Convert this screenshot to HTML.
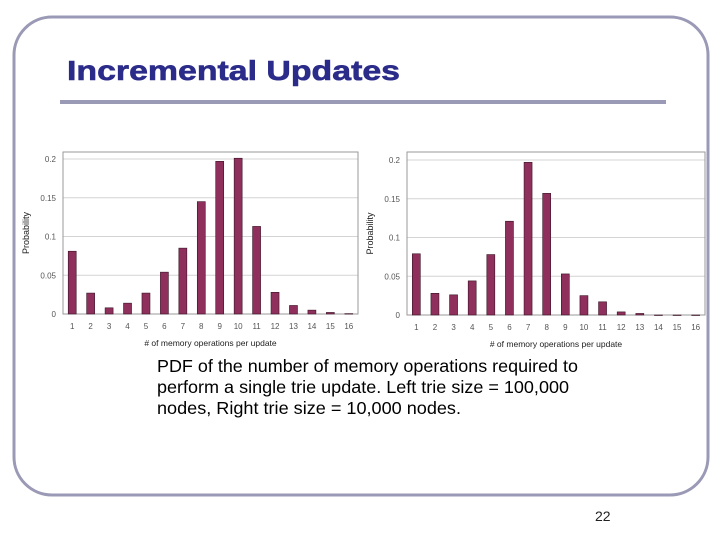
<!DOCTYPE html>
<html><head><meta charset="utf-8"><style>
body{margin:0;background:#fff;}
svg{display:block;font-family:"Liberation Sans",sans-serif;}
</style></head><body>
<svg id="s" width="720" height="540" viewBox="0 0 720 540">
<rect x="14" y="17" width="694" height="478" rx="38" fill="none" stroke="#9a9ab6" stroke-width="3"/>
<text x="67" y="80" font-size="28" font-weight="bold" fill="#2b2b8a" stroke="#2b2b8a" stroke-width="0.6" textLength="333" lengthAdjust="spacingAndGlyphs">Incremental Updates</text>
<rect x="60" y="100" width="606" height="4" fill="#9a9ab6"/>
<g font-size="17.5" fill="#000">
<text x="157" y="372" textLength="421" lengthAdjust="spacingAndGlyphs">PDF of the number of memory operations required to</text>
<text x="157" y="393" textLength="412" lengthAdjust="spacingAndGlyphs">perform a single trie update. Left trie size = 100,000</text>
<text x="157" y="414" textLength="304" lengthAdjust="spacingAndGlyphs">nodes, Right trie size = 10,000 nodes.</text>
</g>
<text x="595" y="521" font-size="14" fill="#222">22</text>
<g id="c1"></g>
<g id="c2"></g>
</svg>
<script>
const categories=[1,2,3,4,5,6,7,8,9,10,11,12,13,14,15,16];
const leftValues=[0.081,0.027,0.008,0.014,0.027,0.054,0.085,0.145,0.197,0.201,0.113,0.028,0.011,0.005,0.002,0.0005];
const rightValues=[0.079,0.028,0.026,0.044,0.078,0.121,0.197,0.157,0.053,0.025,0.017,0.004,0.002,0,0,0];
const yTicks=[0,0.05,0.1,0.15,0.2];
const yTickLabels=["0","0.05","0.1","0.15","0.2"];
const NS="http://www.w3.org/2000/svg";
function mk(t,a,p){const e=document.createElementNS(NS,t);for(const k in a)e.setAttribute(k,a[k]);p.appendChild(e);return e;}
function chart(g,vals,L,R,T,B,top02){
  const y=v=>B-(B-top02)*v/0.2;
  const step=(R-L)/categories.length;
  const x=i=>L+step*(i+0.5);
  yTicks.forEach((t,i)=>{
    const ln=mk('line',{x1:L,x2:R,y1:y(t),y2:y(t),stroke:'#d4d4d4','stroke-width':1},g);
    
    
    const tx=mk('text',{x:L-7,y:y(t)+3,'font-size':8,fill:'#555','text-anchor':'end'},g);
    tx.textContent=yTickLabels[i];
    
    
  });
  const fr=mk('rect',{x:L,y:T,width:R-L,height:B-T,fill:'none',stroke:'#999','stroke-width':1},g);
  
  
  vals.forEach((v,i)=>{
    const h=B-y(v);
    const b=mk('rect',{x:x(i)-4,y:y(v),width:8,height:Math.max(h,0.5),fill:'#8e2f5c',stroke:'#3a1426','stroke-width':0.6},g);
    
    
    const tx=mk('text',{x:x(i),y:B+15,'font-size':8,fill:'#555','text-anchor':'middle'},g);
    tx.textContent=categories[i];
    
    
  });
  const xt=mk('text',{x:(L+R)/2,y:B+32,'font-size':8.5,fill:'#222','text-anchor':'middle'},g);
  xt.textContent='# of memory operations per update';
  
  
  const yt=mk('text',{x:0,y:0,'font-size':9,fill:'#222','text-anchor':'middle',transform:`translate(${L-34},${(T+B)/2}) rotate(-90)`},g);
  yt.textContent='Probability';
  
  
}
chart(document.getElementById('c1'),leftValues,63,358,152,314,159);
chart(document.getElementById('c2'),rightValues,407,705,152,315,160);
</script>
</body></html>
